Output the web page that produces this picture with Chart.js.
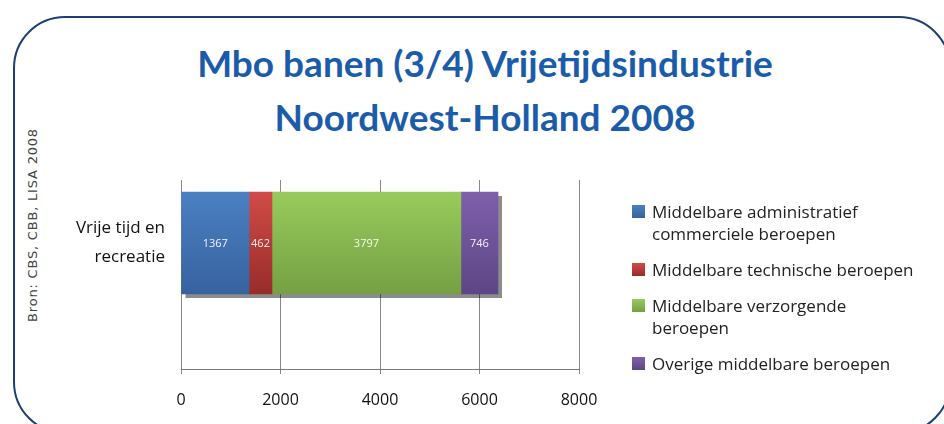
<!DOCTYPE html>
<html>
<head>
<meta charset="utf-8">
<script src="https://cdn.jsdelivr.net/npm/chart.js@4.4.1/dist/chart.umd.min.js"></script>
<style>
  body { margin: 0; background: #fff; }
  #wrap { position: relative; width: 944px; height: 424px; overflow: hidden; }
  #frame {
    position: absolute; left: 13px; top: 16px; width: 938px; height: 418px;
    box-sizing: border-box; border: 2px solid #1e3f70; border-radius: 52px;
  }
  #title {
    position: absolute; left: 0; top: 36px; width: 970px; text-align: center;
    font: bold 37px Lato, sans-serif; line-height: 54px; color: #1b5caa;
  }
  #source {
    position: absolute; left: 32px; top: 225px; white-space: nowrap;
    transform: translate(-50%, -50%) rotate(-90deg);
    font: 13px "DejaVu Sans", sans-serif; letter-spacing: 0.8px; color: #444;
  }
  #legend { position: absolute; left: 632px; top: 201px; font: 17px "Open Sans", sans-serif; color: #222; }
  .item { position: relative; padding-left: 20px; line-height: 22px; margin-bottom: 14px; white-space: pre-line; }
  .box { position: absolute; left: 0; top: 4px; width: 13px; height: 13px; }
  canvas { position: absolute; left: 0; top: 0; }
</style>
</head>
<body>
<div id="wrap">
  <div id="frame"></div>
  <div id="title">Mbo banen (3/4) Vrijetijdsindustrie<br>Noordwest-Holland 2008</div>
  <div id="source">Bron: CBS, CBB, LISA 2008</div>
  <canvas id="chart" width="944" height="424"></canvas>
  <div id="legend"></div>
</div>
<script>
// data
const categories = ["Vrije tijd en recreatie"];
const categoryLines = ["Vrije tijd en", "recreatie"];
const seriesNames = [
  "Middelbare administratief\ncommerciele beroepen",
  "Middelbare technische beroepen",
  "Middelbare verzorgende\nberoepen",
  "Overige middelbare beroepen",
];
const seriesValues = [1367, 462, 3797, 746];
const xTicks = [0, 2000, 4000, 6000, 8000];

// gradient colours, top -> bottom
const colorsTop = ["#4a80c2", "#d14b48", "#98cb5c", "#7e5fab"];
const colorsBottom = ["#3762a0", "#982c29", "#75a044", "#5d4685"];
const barHeight = 102;

function barGradient(i) {
  return (c) => {
    const y = c.chart.scales.y;
    if (!y || y.top === undefined) return colorsTop[i];
    const mid = y.getPixelForValue(0);
    const g = c.chart.ctx.createLinearGradient(0, mid - barHeight / 2, 0, mid + barHeight / 2);
    g.addColorStop(0, colorsTop[i]);
    g.addColorStop(1, colorsBottom[i]);
    return g;
  };
}

// grey drop shadow under the stacked bar
const shadowPlugin = {
  id: "shadow",
  beforeDatasetsDraw(chart) {
    const ctx = chart.ctx;
    ctx.save();
    ctx.fillStyle = "rgba(0,0,0,0.45)";
    chart.data.datasets.forEach((ds, i) => {
      chart.getDatasetMeta(i).data.forEach((el) => {
        const p = el.getProps(["x", "y", "base", "height"], true);
        ctx.fillRect(Math.min(p.x, p.base) + 4, p.y - p.height / 2 + 4, Math.abs(p.x - p.base), p.height);
      });
    });
    ctx.restore();
  },
};

const labelPlugin = {
  id: "valueLabels",
  afterDatasetsDraw(chart) {
    const ctx = chart.ctx;
    ctx.save();
    ctx.font = '11px "Open Sans", sans-serif';
    ctx.fillStyle = "rgba(255,255,255,0.92)";
    ctx.textAlign = "center";
    ctx.textBaseline = "middle";
    chart.data.datasets.forEach((ds, i) => {
      chart.getDatasetMeta(i).data.forEach((el, j) => {
        const p = el.getProps(["x", "y", "base"], true);
        ctx.fillText(String(ds.data[j].x), (p.x + p.base) / 2, p.y + 1);
      });
    });
    ctx.restore();
  },
};

new Chart(document.getElementById("chart"), {
  type: "bar",
  data: {
    datasets: seriesNames.map((name, i) => ({
      label: name,
      data: [{ x: seriesValues[i], y: 0 }],
      backgroundColor: barGradient(i),
      borderWidth: 0,
      barThickness: barHeight,
    })),
  },
  options: {
    indexAxis: "y",
    responsive: false,
    animation: false,
    layout: { padding: { top: 180, right: 365, bottom: 0, left: 0 } },
    plugins: { legend: { display: false }, tooltip: { enabled: false } },
    scales: {
      x: {
        type: "linear",
        stacked: true,
        min: 0,
        max: 8000,
        afterBuildTicks: (s) => { s.ticks = xTicks.map((v) => ({ value: v })); },
        afterFit: (s) => { s.height = 55; },
        grid: { color: "#888", lineWidth: 1, tickLength: 5 },
        border: { color: "#777", width: 1 },
        ticks: {
          color: "#111",
          padding: 17,
          font: { family: "Open Sans", size: 16 },
          callback: (v) => String(v),
        },
      },
      y: {
        type: "linear",
        stacked: true,
        offset: false,
        min: -2,
        max: 1,
        afterBuildTicks: (s) => { s.ticks = [{ value: 0 }]; },
        afterFit: (s) => { s.width = 181; },
        grid: { display: false, drawTicks: false },
        border: { display: false },
        ticks: {
          color: "#111",
          padding: 16,
          font: { family: "Open Sans", size: 17, lineHeight: 1.7 },
          callback: () => categoryLines,
        },
      },
    },
  },
  plugins: [shadowPlugin, labelPlugin],
});

// legend
const legend = document.getElementById("legend");
seriesNames.forEach((name, i) => {
  const item = document.createElement("div");
  item.className = "item";
  const box = document.createElement("span");
  box.className = "box";
  box.style.background = "linear-gradient(" + colorsTop[i] + "," + colorsBottom[i] + ")";
  item.appendChild(box);
  item.appendChild(document.createTextNode(name));
  legend.appendChild(item);
});
</script>
</body>
</html>
